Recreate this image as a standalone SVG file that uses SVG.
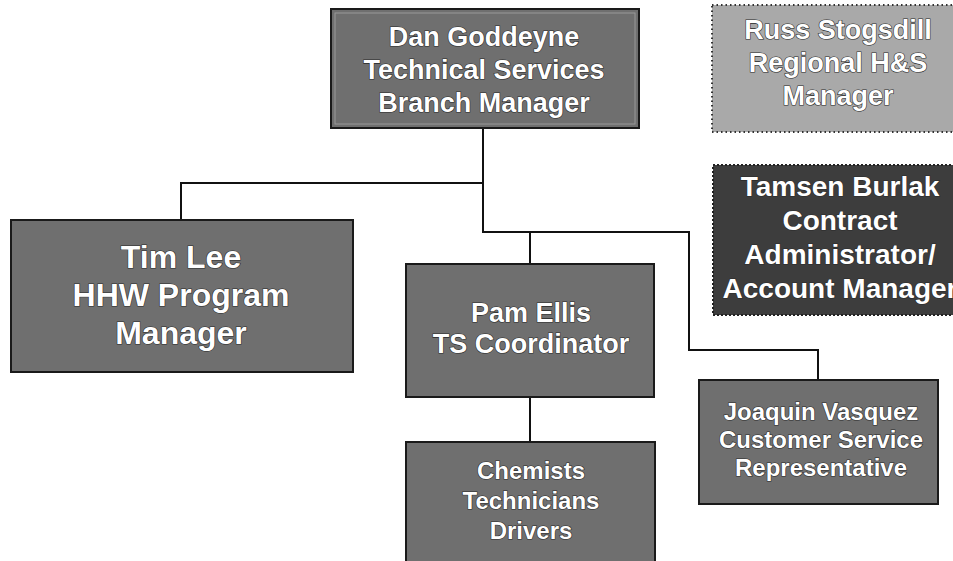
<svg xmlns="http://www.w3.org/2000/svg" width="953" height="561" viewBox="0 0 953 561">
<style>
.box{fill:#6f6f6f;stroke:#1a1a1a;stroke-width:2}
.dark{fill:#3d3d3d;stroke:#222;stroke-width:2;stroke-dasharray:2 2}
.light{fill:#a9a9a9;stroke:#333;stroke-width:2;stroke-dasharray:1.5 3}
.t{font-family:"Liberation Sans",Arial,sans-serif;font-weight:bold;fill:#fff;text-anchor:middle;stroke:#2a2a2a;stroke-width:1.2;paint-order:stroke}
.c{fill:none;stroke:#111;stroke-width:2}
</style>
<rect width="953" height="561" fill="#fff"/>
<g id="connectors">
<polyline class="c" points="483,128 483,183 181,183 181,220"/>
<polyline class="c" points="483,183 483,232 689,232 689,350 818,350 818,380"/>
<line class="c" x1="530" y1="232" x2="530" y2="264"/>
<line class="c" x1="530" y1="397" x2="530" y2="442"/>
</g>
<g id="dan">
<rect class="box" x="331" y="9" width="308" height="119"/>
<rect x="335" y="13" width="300" height="111" fill="none" stroke="#999" stroke-width="1"/>
<text class="t" font-size="27"><tspan x="484" y="46">Dan Goddeyne</tspan><tspan x="484" y="79">Technical Services</tspan><tspan x="484" y="112">Branch Manager</tspan></text>
</g>
<g id="russ">
<rect class="light" x="712" y="5" width="250" height="127"/>
<text class="t" font-size="27"><tspan x="838" y="39">Russ Stogsdill</tspan><tspan x="838" y="72">Regional H&amp;S</tspan><tspan x="838" y="105">Manager</tspan></text>
</g>
<g id="tamsen">
<rect class="dark" x="713" y="165" width="250" height="150"/>
<text class="t" font-size="28"><tspan x="840" y="196">Tamsen Burlak</tspan><tspan x="840" y="230">Contract</tspan><tspan x="840" y="264">Administrator/</tspan><tspan x="840" y="298">Account Manager</tspan></text>
</g>
<g id="timlee">
<rect class="box" x="11" y="220" width="342" height="152"/>
<text class="t" font-size="32"><tspan x="181" y="268">Tim Lee</tspan><tspan x="181" y="306">HHW Program</tspan><tspan x="181" y="344">Manager</tspan></text>
</g>
<g id="pam">
<rect class="box" x="406" y="264" width="248" height="133"/>
<text class="t" font-size="27"><tspan x="531" y="322">Pam Ellis</tspan><tspan x="531" y="353">TS Coordinator</tspan></text>
</g>
<g id="chemists">
<rect class="box" x="406" y="442" width="249" height="125"/>
<text class="t" font-size="24"><tspan x="531" y="479">Chemists</tspan><tspan x="531" y="509">Technicians</tspan><tspan x="531" y="539">Drivers</tspan></text>
</g>
<g id="joaquin">
<rect class="box" x="699" y="380" width="239" height="124"/>
<text class="t" font-size="24"><tspan x="821" y="420">Joaquin Vasquez</tspan><tspan x="821" y="448">Customer Service</tspan><tspan x="821" y="476">Representative</tspan></text>
</g>
</svg>
